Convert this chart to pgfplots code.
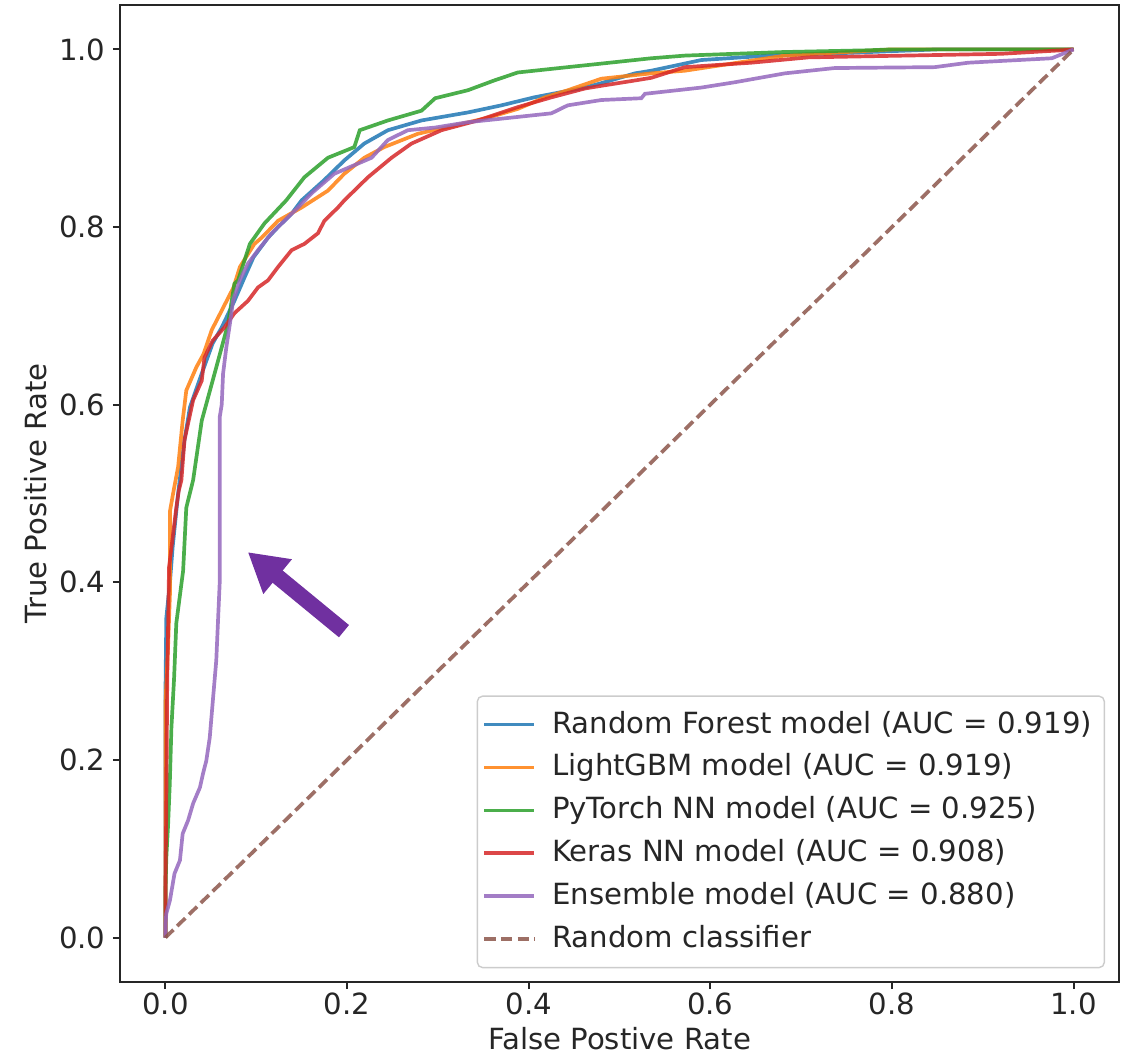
\documentclass[border=0pt]{standalone}
\usepackage{fontspec}
\setmainfont{DejaVu Sans}
\usepackage{pgfplots}
\pgfplotsset{compat=1.18}
\usetikzlibrary{arrows.meta}
\definecolor{mplblue}{HTML}{1F77B4}
\definecolor{mplorange}{HTML}{FF7F0E}
\definecolor{mplgreen}{HTML}{2CA02C}
\definecolor{mplred}{HTML}{D62728}
\definecolor{mplpurple}{HTML}{9467BD}
\definecolor{mplbrown}{HTML}{8C564B}
\definecolor{arrowpurple}{HTML}{7030A0}

\begin{document}
\begin{tikzpicture}
\begin{axis}[
  scale only axis,
  width=9.99cm, height=9.77cm,
  xmin=-0.05, xmax=1.05, ymin=-0.05, ymax=1.05,
  xtick={0,0.2,...,1.0}, ytick={0,0.2,...,1.0},
  tick align=outside, tick pos=left,
  major tick length=2pt,
  axis line style={line width=0.55pt, black!85},
  every tick/.style={black!85, line width=0.55pt},
  /pgf/number format/assume math mode=true,
  tick label style={font=\fontsize{8.3}{10}\selectfont, text=black!85},
  xticklabel style={inner ysep=1pt, /pgf/number format/.cd, fixed, fixed zerofill, precision=1},
  yticklabel style={/pgf/number format/.cd, fixed, fixed zerofill, precision=1},
  yticklabel shift=-1.4pt,
  label style={font=\fontsize{8.3}{10}\selectfont, text=black!85},
  xlabel shift=-1pt,
  ylabel shift=-3.4pt,
  xlabel={False Postive Rate},
  ylabel={True Positive Rate},
  legend cell align=left,
  legend style={at={(0.986,0.014)}, anchor=south east,
    font=\fontsize{8.3}{10}\selectfont, text=black!85,
    draw=black!20, rounded corners=1.5pt, row sep=0pt,
    inner xsep=1.5pt, inner ysep=2pt,
    nodes={inner ysep=2.2pt}},
  legend image code/.code={\draw[#1] (0cm,0cm) -- (0.5cm,0cm);},
  every axis plot/.append style={line width=1.05pt, opacity=0.85},
]
% Random Forest
\addplot[mplblue] coordinates {
(0,0) (0,0.10) (0,0.27) (0.001,0.36) (0.005,0.40) (0.008,0.44) (0.014,0.50)
(0.021,0.56) (0.027,0.597) (0.040,0.635) (0.052,0.669) (0.062,0.687) (0.076,0.717)
(0.087,0.743) (0.097,0.766) (0.113,0.788) (0.124,0.80) (0.139,0.815) (0.150,0.83)
(0.175,0.853) (0.197,0.875) (0.219,0.894) (0.245,0.909) (0.282,0.92) (0.333,0.929)
(0.370,0.937) (0.406,0.946) (0.462,0.957) (0.480,0.962) (0.517,0.973) (0.535,0.976)
(0.59,0.988) (0.664,0.993) (0.75,0.996) (0.85,1.0) (1,1)};
\addlegendentry{\hspace{2.5pt}Random Forest model (AUC = 0.919)}
% LightGBM
\addplot[mplorange] coordinates {
(0,0) (0,0.12) (0,0.263) (0.003,0.33) (0.005,0.387) (0.005,0.48) (0.009,0.503)
(0.014,0.53) (0.019,0.582) (0.023,0.616) (0.034,0.642) (0.042,0.657) (0.051,0.684)
(0.062,0.706) (0.075,0.732) (0.082,0.755) (0.098,0.781) (0.106,0.788) (0.124,0.807)
(0.150,0.822) (0.179,0.841) (0.197,0.86) (0.219,0.878) (0.241,0.89) (0.278,0.905)
(0.355,0.923) (0.388,0.933) (0.418,0.946) (0.443,0.954) (0.48,0.967) (0.535,0.973)
(0.572,0.976) (0.63,0.985) (0.682,0.993) (0.8,1.0) (1,1)};
\addlegendentry{\hspace{2.5pt}LightGBM model (AUC = 0.919)}
% PyTorch NN
\addplot[mplgreen] coordinates {
(0,0) (0,0.05) (0.001,0.09) (0.003,0.128) (0.0048,0.173) (0.0066,0.236) (0.0096,0.293)
(0.012,0.354) (0.0195,0.413) (0.023,0.484) (0.0305,0.515) (0.040,0.582) (0.056,0.642)
(0.069,0.691) (0.076,0.736) (0.080,0.74) (0.093,0.781) (0.109,0.804) (0.133,0.83)
(0.153,0.856) (0.179,0.878) (0.208,0.89) (0.214,0.909) (0.245,0.92) (0.282,0.931)
(0.297,0.945) (0.333,0.954) (0.362,0.965) (0.388,0.974) (0.443,0.98) (0.48,0.984)
(0.535,0.99) (0.572,0.993) (0.68,0.997) (0.774,0.999) (0.8,1.0) (1,1)};
\addlegendentry{\hspace{2.5pt}PyTorch NN model (AUC = 0.925)}
% Keras NN
\addplot[mplred] coordinates {
(0,0) (0,0.05) (0.001,0.15) (0.002,0.289) (0.004,0.417) (0.012,0.484) (0.0147,0.503)
(0.0176,0.515) (0.021,0.56) (0.0305,0.605) (0.040,0.627) (0.043,0.653) (0.052,0.672)
(0.065,0.687) (0.076,0.703) (0.091,0.717) (0.102,0.732) (0.113,0.74) (0.124,0.755)
(0.139,0.774) (0.153,0.781) (0.168,0.793) (0.175,0.807) (0.190,0.822) (0.197,0.83)
(0.223,0.856) (0.249,0.878) (0.271,0.894) (0.304,0.909) (0.344,0.92) (0.388,0.935)
(0.425,0.946) (0.462,0.956) (0.48,0.959) (0.517,0.965) (0.535,0.968) (0.572,0.98)
(0.645,0.985) (0.708,0.991) (0.92,0.995) (0.987,0.999) (1,1)};
\addlegendentry{\hspace{2.5pt}Keras NN model (AUC = 0.908)}
% Ensemble
\addplot[mplpurple] coordinates {
(0,0) (0,0.015) (0.001,0.027) (0.005,0.042) (0.010,0.072) (0.016,0.087) (0.019,0.117)
(0.025,0.132) (0.0305,0.151) (0.038,0.169) (0.0415,0.185) (0.045,0.199) (0.0488,0.225)
(0.0525,0.27) (0.056,0.312) (0.0598,0.40) (0.0598,0.586) (0.062,0.60) (0.0635,0.635)
(0.067,0.664) (0.071,0.691) (0.0745,0.717) (0.082,0.74) (0.091,0.759) (0.102,0.774)
(0.117,0.793) (0.131,0.807) (0.146,0.822) (0.161,0.838) (0.186,0.86) (0.227,0.878)
(0.245,0.898) (0.267,0.909) (0.297,0.912) (0.333,0.918) (0.370,0.922) (0.425,0.928)
(0.443,0.937) (0.480,0.943) (0.524,0.945) (0.528,0.95) (0.59,0.957) (0.627,0.963)
(0.682,0.973) (0.737,0.979) (0.847,0.98) (0.884,0.985) (0.976,0.99) (1,1)};
\addlegendentry{\hspace{2.5pt}Ensemble model (AUC = 0.880)}
% chance line
\addplot[mplbrown, dash pattern=on 3.2pt off 1.5pt] coordinates {(0,0) (1,1)};
\addlegendentry{\hspace{2.5pt}Random classifier}

\draw[arrowpurple, line width=4.5pt, -{Triangle[length=11pt, width=12pt]}]
  (axis cs:0.1966,0.345) -- (axis cs:0.0907,0.434);
\end{axis}
% page margins as in the reference
\path (current axis.south west) ++(-1.20cm,-0.72cm);
\path (current axis.north east) ++(0.11cm,0.05cm);
\end{tikzpicture}
\end{document}
